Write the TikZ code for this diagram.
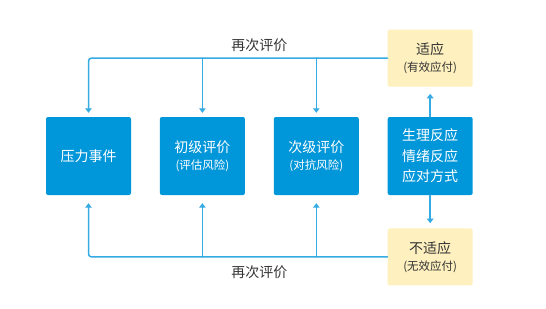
\documentclass[tikz,border=0pt]{standalone}
\usepackage{fontspec}
\newfontfamily\cjk{Noto Sans CJK SC}
\usetikzlibrary{arrows.meta, calc, positioning}
\definecolor{boxblue}{HTML}{0096DA}
\definecolor{lineblue}{HTML}{35ABE3}
\definecolor{paleyellow}{HTML}{FEF0BF}
\definecolor{darktext}{HTML}{333333}
\newcommand{\subsize}{\fontsize{11.5}{14}\selectfont}
\tikzset{
  >={Triangle[length=4.5pt, width=6.5pt]},
  every picture/.style={line cap=round, line join=round, font=\cjk},
  stage/.style={fill=boxblue, text=white, rounded corners=2pt, minimum width=85pt,
    minimum height=78pt, align=center, inner sep=0pt, font=\cjk\fontsize{14}{18}\selectfont},
  outcome/.style={fill=paleyellow, text=darktext, rounded corners=2pt, minimum width=85pt,
    minimum height=57pt, align=center, inner sep=0pt, font=\cjk\fontsize{14}{18}\selectfont},
  flow/.style={->, lineblue, line width=1.5pt},
  % feedback label
  loop/.style={text=darktext, font=\cjk\fontsize{14}{16}\selectfont},
}

\begin{document}
\begin{tikzpicture}[x=1pt, y=-1pt, node distance=28.5pt]
  \useasboundingbox (0,0) rectangle (546,308);
  % the four stages
  \node[stage] (stress) at (88.5,156) {压力事件};
  \node[stage, right=of stress] (primary) {初级评价\\[-1pt]{\subsize(评估风险)}};
  \node[stage, right=of primary] (secondary) {次级评价\\[-1pt]{\subsize(对抗风险)}};
  \node[stage, right=of secondary, font=\cjk\fontsize{14}{20.5}\selectfont] (react) {生理反应\\情绪反应\\应对方式};
  % outcomes
  \node[outcome, above=30pt of react] (adapt) {适应\\[-1pt]{\subsize(有效应付)}};
  \node[outcome, below=33pt of react] (maladapt) {不适应\\[-1pt]{\subsize(无效应付)}};
  \draw[flow, shorten >=7pt] (react.north) -- (adapt.south);
  \draw[flow, shorten >=5pt] (react.south) -- (maladapt.north);
  % re-appraisal from above
  \draw[flow, rounded corners=3pt, shorten >=4pt] (adapt.west) -| (stress.north);
  \draw[flow, shorten >=4pt] (primary.north |- adapt.west) -- (primary.north);
  \draw[flow, shorten >=4pt] (secondary.north |- adapt.west) -- (secondary.north);
  \node[loop, above=3pt] (againtop) at ($(primary.north |- adapt.west)!0.5!(secondary.north |- adapt.west)$) {再次评价};
  % re-appraisal from below
  \draw[flow, rounded corners=3pt, shorten >=8pt] (maladapt.west) -| (stress.south);
  \draw[flow, shorten >=8pt] (primary.south |- maladapt.west) -- (primary.south);
  \draw[flow, shorten >=8pt] (secondary.south |- maladapt.west) -- (secondary.south);
  \node[loop, below=5pt] (againbot) at ($(primary.south |- maladapt.west)!0.5!(secondary.south |- maladapt.west)$) {再次评价};
\end{tikzpicture}
\end{document}
